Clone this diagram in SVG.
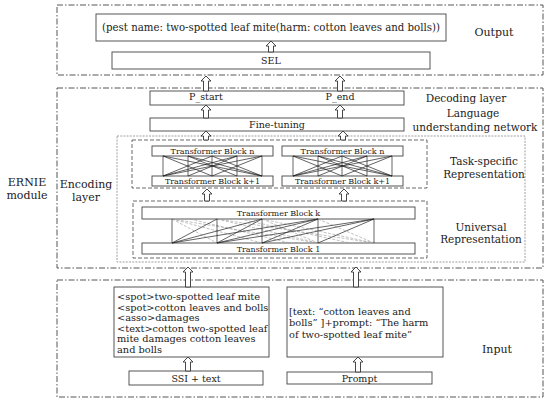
<svg xmlns="http://www.w3.org/2000/svg" width="550" height="400" viewBox="0 0 550 400">
<defs>
<style>
.t{font-family:"DejaVu Serif","Liberation Serif",serif;fill:#222;}
.m{text-anchor:middle;}
.box{fill:#fff;stroke:#444;stroke-width:0.9;}
.dd{fill:none;stroke:#444;stroke-width:0.9;stroke-dasharray:6 2 1.5 2;}
.dot{fill:none;stroke:#888;stroke-width:0.8;stroke-dasharray:2 1.2;}
.dash{fill:none;stroke:#444;stroke-width:0.8;stroke-dasharray:4 2;}
.ln{stroke:#222;stroke-width:0.7;fill:none;}
.gl{stroke:#999;stroke-width:0.6;stroke-dasharray:3 1.5;fill:none;}
.arr{fill:#fff;stroke:#333;stroke-width:0.9;}
</style>
</defs>
<rect width="550" height="400" fill="#fff"/>

<g id="output">
<rect class="dd" x="57" y="5" width="486" height="70"/>
<text class="t m" x="494" y="36" font-size="11">Output</text>
</g>
<g id="pest">
<rect class="box" x="96" y="14" width="350" height="27"/>
<text class="t m" x="271" y="31" font-size="10.2">(pest name: two-spotted leaf mite(harm: cotton leaves and bolls))</text>
</g>
<g id="sel">
<rect class="box" x="112" y="52" width="318" height="17"/>
<text class="t m" x="271" y="64" font-size="9.5">SEL</text>
</g>

<g id="ernie">
<rect class="dd" x="57" y="88" width="486" height="180"/>
<text class="t m" x="27" y="186" font-size="11">ERNIE</text>
<text class="t m" x="27" y="199" font-size="11">module</text>
</g>
<g id="decoding">
<rect class="box" x="150" y="91" width="254" height="14"/>
<text class="t m" x="206" y="100" font-size="9.5">P_start</text>
<text class="t m" x="340" y="100" font-size="9.5">P_end</text>
<text class="t m" x="466" y="102" font-size="10.5">Decoding layer</text>
</g>
<g id="finetuning">
<rect class="box" x="150" y="118" width="254" height="13"/>
<text class="t m" x="277" y="128" font-size="9.5">Fine-tuning</text>
<text class="t m" x="473" y="117" font-size="10.5">Language</text>
<text class="t m" x="475" y="131" font-size="10.5">understanding network</text>
</g>
<g id="encoding">
<rect class="dot" x="117" y="136" width="408" height="126"/>
<text class="t m" x="86" y="188" font-size="11">Encoding</text>
<text class="t m" x="86" y="201" font-size="11">layer</text>
</g>
<g id="task-specific">
<rect class="dash" x="132" y="140" width="295" height="48"/>
<rect class="box" x="152" y="146" width="121" height="10"/>
<text class="t m" x="212.5" y="154" font-size="8">Transformer Block n</text>
<rect class="box" x="152" y="176" width="121" height="10"/>
<text class="t m" x="212.5" y="184" font-size="8">Transformer Block k+1</text>
<rect class="box" x="282" y="146" width="121" height="10"/>
<text class="t m" x="342.5" y="154" font-size="8">Transformer Block n</text>
<rect class="box" x="282" y="176" width="121" height="10"/>
<text class="t m" x="342.5" y="184" font-size="8">Transformer Block k+1</text>
<path class="ln" d="M163 156V176M188 156V176M212 156V176M237 156V176M262 156V176M163 156L212 176M163 176L212 156M188 156L237 176M188 176L237 156M212 156L262 176M212 176L262 156M163 156L262 176M163 176L262 156M188 156L262 176M163 176L237 156"/>
<path class="ln" d="M293 156V176M318 156V176M342 156V176M367 156V176M392 156V176M293 156L342 176M293 176L342 156M318 156L367 176M318 176L367 156M342 156L392 176M342 176L392 156M293 156L392 176M293 176L392 156M318 156L392 176M293 176L367 156"/>
<text class="t m" x="484" y="165" font-size="10.5">Task-specific</text>
<text class="t m" x="484" y="178" font-size="10.5">Representation</text>
</g>
<g id="universal">
<rect class="dash" x="133" y="201" width="294" height="57"/>
<rect class="box" x="142" y="207" width="273" height="12"/>
<text class="t m" x="278.5" y="216" font-size="8">Transformer Block k</text>
<rect class="box" x="142" y="243" width="273" height="11"/>
<text class="t m" x="278.5" y="252" font-size="8">Transformer Block 1</text>
<path class="gl" d="M172 219L262 243M172 219L217 243M217 219L318 243M262 219L374 243M172 219L318 243M217 219L374 243M262 219L318 243M318 219L374 243M190 219L290 243M240 219L350 243"/>
<path class="ln" d="M172 219V243M217 219V243M262 219V243M318 219V243M374 219V243M172 243L217 219M172 243L262 219M172 243L318 219M217 243L262 219M217 243L318 219M262 243L318 219M262 243L374 219M318 243L374 219M217 243L374 219"/>
<text class="t m" x="481" y="231" font-size="10.5">Universal</text>
<text class="t m" x="481" y="243" font-size="10.5">Representation</text>
</g>

<g id="input">
<rect class="dd" x="57" y="280" width="486" height="117"/>
<text class="t m" x="497" y="353" font-size="11">Input</text>
</g>
<g id="ssi-text">
<rect class="box" x="114" y="287" width="155" height="70"/>
<text class="t" x="117" y="300" font-size="9.8">&lt;spot&gt;two-spotted leaf mite</text>
<text class="t" x="117" y="310.5" font-size="9.8">&lt;spot&gt;cotton leaves and bolls</text>
<text class="t" x="117" y="321" font-size="9.8">&lt;asso&gt;damages</text>
<text class="t" x="117" y="331.5" font-size="9.8">&lt;text&gt;cotton two-spotted leaf</text>
<text class="t" x="117" y="342" font-size="9.8">mite damages cotton leaves</text>
<text class="t" x="117" y="352.5" font-size="9.8">and bolls</text>
</g>
<g id="prompt-text">
<rect class="box" x="287" y="287" width="156" height="70"/>
<text class="t" x="289" y="315" font-size="9.8">[text:  “cotton leaves and</text>
<text class="t" x="289" y="326" font-size="9.8">bolls”  ]+prompt:  “The harm</text>
<text class="t" x="289" y="337.5" font-size="9.8">of two-spotted leaf mite”</text>
</g>
<g id="ssi">
<rect class="box" x="129" y="371" width="134" height="14"/>
<text class="t m" x="196" y="381.5" font-size="9.5">SSI + text</text>
</g>
<g id="prompt">
<rect class="box" x="287" y="372" width="145" height="12"/>
<text class="t m" x="359.5" y="381.5" font-size="9.5">Prompt</text>
</g>

<g id="connectors">
<path class="arr" d="M271 41l5 5h-2.5v6h-5v-6h-2.5z"/>
<path class="arr" d="M206 76l5 5h-2.5v10h-5v-10h-2.5z"/>
<path class="arr" d="M340 76l5 5h-2.5v10h-5v-10h-2.5z"/>
<path class="arr" d="M206 105l5 5h-2.5v8h-5v-8h-2.5z"/>
<path class="arr" d="M340 105l5 5h-2.5v8h-5v-8h-2.5z"/>
<path class="arr" d="M206 131l5 5h-2.5v4h-5v-4h-2.5z"/>
<path class="arr" d="M343 131l5 5h-2.5v4h-5v-4h-2.5z"/>
<path class="arr" d="M207 189l5 5h-2.5v7h-5v-7h-2.5z"/>
<path class="arr" d="M344 189l5 5h-2.5v7h-5v-7h-2.5z"/>
<path class="arr" d="M188 267l5 5h-2.5v15h-5v-15h-2.5z"/>
<path class="arr" d="M356 267l5 5h-2.5v15h-5v-15h-2.5z"/>
<path class="arr" d="M188 357l5 5h-2.5v9h-5v-9h-2.5z"/>
<path class="arr" d="M358 357l5 5h-2.5v10h-5v-10h-2.5z"/>
</g>
</svg>
